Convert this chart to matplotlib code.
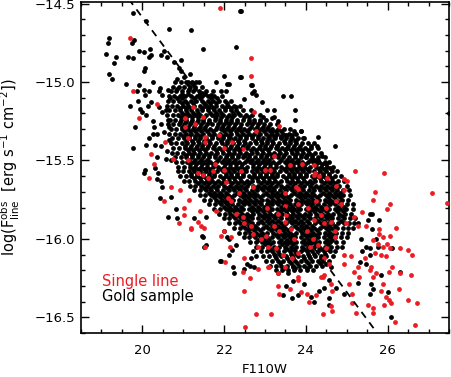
import matplotlib
matplotlib.use("Agg")
import matplotlib.pyplot as plt
from matplotlib.ticker import MultipleLocator, FuncFormatter

# ---------------- data ----------------
# "Gold sample" – isolated points outside the dense core
gold_sparse_x = [19.78, 20.09, 20.65, 19.19, 19.15, 19.80, 19.75, 19.11, 19.35, 19.31, 19.66, 19.78, 19.92, 20.04,
                 20.18, 20.21, 20.17, 20.45, 20.53, 20.61, 20.06, 20.04, 19.19, 19.25, 19.61, 19.92, 20.27, 19.88,
                 20.04, 20.07, 20.17, 20.43, 20.41, 20.48, 20.63, 20.68, 19.70, 19.90, 19.94, 20.00, 20.13, 20.21,
                 20.41, 20.49, 20.57, 20.09, 20.25, 19.82, 20.29, 20.45, 20.63, 20.65, 20.25, 20.37, 20.53, 20.17,
                 20.09, 19.78, 20.30, 20.45, 20.65, 20.35, 20.57, 20.61, 20.70, 20.06, 20.30,
                 20.03, 20.39, 20.35, 20.45, 20.49, 20.43, 20.63, 20.71,
                 20.84, 21.45, 21.52, 21.89, 20.82, 21.27, 21.56, 21.48, 21.56, 21.99, 22.06, 22.13, 22.19, 22.11,
                 22.30, 21.92, 22.21, 22.25, 22.49, 22.57, 22.64, 22.74, 22.65, 22.78, 22.70,
                 23.52, 23.68, 23.80, 23.96, 24.13, 24.21, 24.33, 24.44, 24.57, 24.74, 24.56, 24.57, 24.94, 24.61,
                 24.49, 23.56, 23.31, 23.68, 23.43, 23.67,
                 25.56, 25.62, 25.52, 25.78, 25.62, 25.72, 25.76, 26.11, 25.56, 25.48, 25.38, 25.56, 25.33, 25.46,
                 25.84, 26.31, 25.27, 25.60, 25.64, 25.58, 26.00, 26.07, 25.35, 25.28,
                 22.40, 22.28, 22.40, 22.12, 22.67, 22.73, 22.77, 22.48, 22.93, 23.43, 23.64, 23.73, 23.21, 22.95,
                 23.21, 23.73, 23.89, 23.66, 24.30, 24.72, 24.27, 24.13, 23.06, 23.17, 23.33, 23.16, 23.72, 23.88,
                 23.08, 23.23, 23.40, 23.52, 23.64, 23.76, 23.92, 23.30, 23.55, 23.80, 24.00, 24.17, 24.30, 24.50,
                 24.60, 24.40,
                 22.41, 21.18, 21.49, 20.95, 20.78, 20.90, 20.95, 21.03, 20.86, 21.17, 21.11, 21.23, 21.31, 21.80,
                 22.00, 22.08, 22.41, 22.65, 22.69, 21.68, 21.92, 22.04, 21.47, 22.08, 22.29, 27.49]
gold_sparse_y = [-14.56, -14.61, -14.66, -14.72, -14.75, -14.73, -14.75, -14.82, -14.84, -14.88, -14.84, -14.85, -14.80, -14.81,
                 -14.79, -14.83, -14.84, -14.83, -14.80, -14.84, -14.91, -14.93, -14.95, -14.98, -15.01, -15.02, -15.00, -15.06,
                 -15.05, -15.08, -15.06, -15.04, -15.06, -15.08, -15.05, -15.10, -15.15, -15.12, -15.17, -15.19, -15.15, -15.13,
                 -15.16, -15.19, -15.18, -15.21, -15.25, -15.29, -15.29, -15.27, -15.24, -15.29, -15.33, -15.33, -15.32, -15.36,
                 -15.40, -15.42, -15.40, -15.41, -15.37, -15.48, -15.49, -15.44, -15.50, -15.56, -15.55,
                 -15.58, -15.58, -15.62, -15.63, -15.67, -15.74, -15.86, -15.73,
                 -15.87, -15.98, -16.05, -16.14, -15.81, -15.87, -15.86, -15.99, -16.04, -15.95, -15.99, -16.00, -16.07, -16.10,
                 -16.04, -16.14, -16.18, -16.22, -16.19, -16.16, -16.17, -16.18, -16.12, -16.11, -16.08,
                 -16.30, -16.27, -16.36, -16.29, -16.37, -16.40, -16.33, -16.31, -16.26, -16.31, -16.42, -16.38, -16.35, -16.18,
                 -16.16, -16.22, -16.22, -16.18, -16.36, -16.38,
                 -15.84, -15.84, -15.88, -15.88, -15.94, -16.00, -16.05, -16.06, -16.06, -16.05, -16.08, -16.10, -16.15, -16.16,
                 -16.23, -16.21, -16.28, -16.29, -16.32, -16.35, -16.34, -16.50, -16.00, -15.90,
                 -14.55, -14.78, -14.97, -15.01, -15.02, -15.06, -15.08, -15.11, -15.13, -15.09, -15.09, -15.18, -15.18, -15.22,
                 -15.22, -15.24, -15.31, -15.34, -15.35, -15.41, -15.41, -15.41, -15.18, -15.23, -15.25, -15.31, -15.31, -15.31,
                 -15.36, -15.35, -15.35, -15.34, -15.36, -15.37, -15.36, -15.41, -15.42, -15.43, -15.48, -15.50, -15.50, -15.52,
                 -15.55, -15.47,
                 -14.55, -14.67, -14.79, -14.86, -14.87, -14.91, -14.93, -14.97, -14.98, -14.95, -15.00, -15.01, -15.00, -15.00,
                 -14.96, -15.01, -14.97, -15.02, -15.07, -15.08, -15.06, -15.06, -15.07, -15.15, -15.16, -15.20]

# "Gold sample" – dense core, one list of F110W values per flux row
core_row_y = [-15.00, -15.03, -15.06, -15.09, -15.12, -15.15, -15.18, -15.21, -15.24, -15.27, -15.30, -15.33, -15.36, -15.39,
              -15.42, -15.45, -15.48, -15.51, -15.54, -15.57, -15.60, -15.63, -15.66, -15.69, -15.72, -15.75, -15.78, -15.81,
              -15.84, -15.87, -15.90, -15.93, -15.96, -15.99, -16.02, -16.05, -16.08, -16.11, -16.14, -16.17, -16.20]
core_row_x = [
    [20.80, 20.94, 21.08, 21.22, 21.38],
    [20.76, 20.89, 21.02, 21.16, 21.30, 21.47],
    [20.69, 20.83, 20.97, 21.11, 21.25, 21.39, 21.55, 21.72],
    [20.65, 20.78, 20.91, 21.05, 21.19, 21.33, 21.47, 21.61, 21.76, 21.95],
    [20.63, 20.76, 20.90, 21.04, 21.18, 21.32, 21.46, 21.60, 21.74, 21.88, 22.02, 22.18],
    [20.60, 20.72, 20.85, 20.99, 21.12, 21.26, 21.40, 21.53, 21.67, 21.81, 21.95, 22.09, 22.24, 22.40],
    [20.66, 20.80, 20.93, 21.07, 21.20, 21.34, 21.47, 21.61, 21.75, 21.88, 22.02, 22.16, 22.30, 22.46, 22.66],
    [20.61, 20.74, 20.88, 21.01, 21.15, 21.29, 21.42, 21.56, 21.70, 21.83, 21.97, 22.11, 22.25, 22.39, 22.53, 22.68, 22.88],
    [20.67, 20.81, 20.95, 21.08, 21.22, 21.36, 21.49, 21.63, 21.77, 21.91, 22.04, 22.18, 22.32, 22.46, 22.60, 22.74, 22.88, 23.03],
    [20.62, 20.75, 20.89, 21.03, 21.16, 21.30, 21.44, 21.58, 21.71, 21.85, 21.99, 22.13, 22.27, 22.41, 22.55, 22.69, 22.83, 22.97,
     23.12, 23.30],
    [20.69, 20.83, 20.96, 21.10, 21.24, 21.37, 21.51, 21.65, 21.79, 21.92, 22.06, 22.20, 22.34, 22.48, 22.62, 22.76, 22.90, 23.04,
     23.18, 23.32, 23.47, 23.62],
    [20.66, 20.79, 20.93, 21.06, 21.20, 21.34, 21.48, 21.62, 21.76, 21.90, 22.04, 22.18, 22.32, 22.46, 22.60, 22.74, 22.88, 23.02,
     23.16, 23.30, 23.44, 23.58, 23.76],
    [20.73, 20.87, 21.01, 21.14, 21.28, 21.42, 21.56, 21.70, 21.84, 21.98, 22.12, 22.26, 22.40, 22.54, 22.68, 22.82, 22.96, 23.10,
     23.24, 23.38, 23.52, 23.66, 23.80, 23.96],
    [20.70, 20.83, 20.97, 21.10, 21.24, 21.38, 21.52, 21.66, 21.80, 21.94, 22.08, 22.22, 22.36, 22.50, 22.64, 22.78, 22.92, 23.06,
     23.20, 23.34, 23.48, 23.62, 23.76, 23.90, 24.05, 24.20],
    [20.76, 20.90, 21.04, 21.17, 21.31, 21.45, 21.59, 21.73, 21.87, 22.01, 22.15, 22.29, 22.43, 22.57, 22.71, 22.85, 22.99, 23.13,
     23.27, 23.41, 23.55, 23.69, 23.83, 23.97, 24.12, 24.30],
    [20.73, 20.86, 21.00, 21.13, 21.27, 21.41, 21.55, 21.69, 21.83, 21.97, 22.11, 22.25, 22.39, 22.53, 22.67, 22.81, 22.95, 23.09,
     23.23, 23.37, 23.51, 23.65, 23.79, 23.93, 24.07, 24.22, 24.38],
    [20.80, 20.94, 21.07, 21.21, 21.35, 21.49, 21.63, 21.77, 21.91, 22.05, 22.19, 22.33, 22.47, 22.61, 22.75, 22.89, 23.03, 23.17,
     23.31, 23.45, 23.59, 23.73, 23.87, 24.01, 24.15, 24.30, 24.46],
    [20.82, 20.96, 21.10, 21.24, 21.38, 21.52, 21.66, 21.80, 21.94, 22.08, 22.22, 22.36, 22.50, 22.64, 22.78, 22.92, 23.06, 23.20,
     23.34, 23.48, 23.62, 23.76, 23.90, 24.04, 24.18, 24.32, 24.46, 24.57],
    [20.88, 21.02, 21.16, 21.30, 21.44, 21.58, 21.72, 21.86, 22.00, 22.14, 22.28, 22.42, 22.56, 22.70, 22.84, 22.98, 23.12, 23.26,
     23.40, 23.54, 23.68, 23.82, 23.96, 24.10, 24.24, 24.38, 24.52, 24.66],
    [20.87, 21.00, 21.13, 21.27, 21.41, 21.55, 21.69, 21.83, 21.97, 22.11, 22.25, 22.39, 22.53, 22.67, 22.81, 22.95, 23.09, 23.23,
     23.37, 23.51, 23.65, 23.79, 23.93, 24.07, 24.21, 24.35, 24.49, 24.63, 24.77],
    [20.93, 21.07, 21.20, 21.34, 21.48, 21.62, 21.76, 21.90, 22.04, 22.18, 22.32, 22.46, 22.60, 22.74, 22.88, 23.02, 23.16, 23.30,
     23.44, 23.58, 23.72, 23.86, 24.00, 24.14, 24.28, 24.42, 24.56, 24.70, 24.86],
    [21.02, 21.15, 21.29, 21.43, 21.57, 21.71, 21.85, 21.99, 22.13, 22.27, 22.41, 22.55, 22.69, 22.83, 22.97, 23.11, 23.25, 23.39,
     23.53, 23.67, 23.81, 23.95, 24.09, 24.23, 24.37, 24.51, 24.65, 24.79, 24.94],
    [21.16, 21.30, 21.44, 21.58, 21.72, 21.86, 22.00, 22.14, 22.28, 22.42, 22.56, 22.70, 22.84, 22.98, 23.12, 23.26, 23.40, 23.54,
     23.68, 23.82, 23.96, 24.10, 24.24, 24.38, 24.52, 24.66, 24.80, 25.00],
    [21.27, 21.41, 21.55, 21.69, 21.83, 21.97, 22.11, 22.25, 22.39, 22.53, 22.67, 22.81, 22.95, 23.09, 23.23, 23.37, 23.51, 23.65,
     23.79, 23.93, 24.07, 24.21, 24.35, 24.49, 24.63, 24.77, 24.91, 25.06],
    [21.40, 21.54, 21.68, 21.82, 21.96, 22.10, 22.24, 22.38, 22.52, 22.66, 22.80, 22.94, 23.08, 23.22, 23.36, 23.50, 23.64, 23.78,
     23.92, 24.06, 24.20, 24.34, 24.48, 24.62, 24.76, 24.90, 25.08],
    [21.52, 21.66, 21.80, 21.94, 22.08, 22.22, 22.36, 22.50, 22.64, 22.78, 22.92, 23.06, 23.20, 23.34, 23.48, 23.62, 23.76, 23.90,
     24.04, 24.18, 24.32, 24.46, 24.60, 24.74, 24.88, 25.02],
    [21.64, 21.78, 21.92, 22.06, 22.20, 22.34, 22.48, 22.62, 22.76, 22.90, 23.04, 23.18, 23.32, 23.46, 23.60, 23.74, 23.88, 24.02,
     24.16, 24.30, 24.44, 24.58, 24.72, 24.86, 25.00, 25.14],
    [21.76, 21.90, 22.04, 22.18, 22.32, 22.46, 22.60, 22.74, 22.88, 23.02, 23.16, 23.30, 23.44, 23.58, 23.72, 23.86, 24.00, 24.14,
     24.28, 24.42, 24.56, 24.70, 24.84, 24.98, 25.16],
    [21.87, 22.01, 22.15, 22.29, 22.43, 22.57, 22.71, 22.85, 22.99, 23.13, 23.27, 23.41, 23.55, 23.69, 23.83, 23.97, 24.11, 24.25,
     24.39, 24.53, 24.67, 24.81, 24.95, 25.10],
    [21.99, 22.13, 22.27, 22.41, 22.55, 22.69, 22.83, 22.97, 23.11, 23.25, 23.39, 23.53, 23.67, 23.81, 23.95, 24.09, 24.23, 24.37,
     24.51, 24.65, 24.79, 24.93, 25.07, 25.19],
    [22.12, 22.26, 22.40, 22.54, 22.68, 22.82, 22.96, 23.10, 23.24, 23.38, 23.52, 23.66, 23.80, 23.94, 24.08, 24.22, 24.36, 24.50,
     24.64, 24.78, 24.92, 25.06, 25.18],
    [22.24, 22.38, 22.52, 22.66, 22.80, 22.94, 23.08, 23.22, 23.36, 23.50, 23.64, 23.78, 23.92, 24.06, 24.20, 24.34, 24.48, 24.62,
     24.76, 24.90, 25.04, 25.15],
    [22.36, 22.50, 22.64, 22.78, 22.92, 23.06, 23.20, 23.34, 23.48, 23.62, 23.76, 23.90, 24.04, 24.18, 24.32, 24.46, 24.60, 24.74,
     24.88, 25.02],
    [22.48, 22.62, 22.76, 22.90, 23.04, 23.18, 23.32, 23.46, 23.60, 23.74, 23.88, 24.02, 24.16, 24.30, 24.44, 24.58, 24.72, 24.86,
     25.00],
    [22.64, 22.78, 22.92, 23.06, 23.20, 23.34, 23.48, 23.62, 23.76, 23.90, 24.04, 24.18, 24.32, 24.46, 24.60, 24.74, 24.90],
    [22.79, 22.93, 23.07, 23.21, 23.35, 23.49, 23.63, 23.77, 23.91, 24.05, 24.19, 24.33, 24.47, 24.61, 24.75, 24.88],
    [22.90, 23.04, 23.18, 23.32, 23.46, 23.60, 23.74, 23.88, 24.02, 24.16, 24.30, 24.44, 24.58, 24.72],
    [22.96, 23.10, 23.24, 23.38, 23.52, 23.66, 23.80, 23.94, 24.08, 24.22, 24.36, 24.50, 24.66],
    [23.03, 23.17, 23.31, 23.45, 23.59, 23.73, 23.87, 24.01, 24.15, 24.29, 24.43, 24.56],
    [23.12, 23.26, 23.40, 23.54, 23.68, 23.82, 23.96, 24.10, 24.24, 24.40],
    [23.28, 23.42, 23.56, 23.70, 23.86, 24.02, 24.18],
]

# dense core, rows lying between the rows above (thinner toward the edges, with gaps)
core_mid_y = [-15.015, -15.045, -15.075, -15.105, -15.135, -15.165, -15.195, -15.225, -15.255, -15.285, -15.315, -15.345,
              -15.375, -15.405, -15.435, -15.465, -15.495, -15.525, -15.555, -15.585, -15.615, -15.645, -15.675, -15.705,
              -15.735, -15.765, -15.795, -15.825, -15.855, -15.885, -15.915, -15.945, -15.975, -16.005, -16.035, -16.065,
              -16.095, -16.125, -16.155, -16.185]
core_mid_x = [
    [21.12],
    [20.86, 21.14, 21.30],
    [20.98, 21.12, 21.40, 21.54],
    [20.84, 20.98, 21.26, 21.40, 21.68, 21.82],
    [20.96, 21.10, 21.24, 21.52, 21.66, 21.80, 22.08],
    [20.92, 21.06, 21.19, 21.47, 21.60, 21.74, 22.02, 22.16],
    [20.96, 21.10, 21.23, 21.37, 21.65, 21.79, 21.93, 22.21, 22.35],
    [20.94, 21.08, 21.22, 21.36, 21.50, 21.78, 21.92, 22.06, 22.20, 22.48, 22.62],
    [20.92, 21.06, 21.20, 21.34, 21.48, 21.62, 21.90, 22.04, 22.18, 22.32, 22.60, 22.74, 22.88],
    [20.98, 21.12, 21.26, 21.40, 21.54, 21.82, 21.96, 22.10, 22.24, 22.38, 22.66, 22.80, 22.94, 23.08],
    [21.02, 21.16, 21.30, 21.44, 21.58, 21.72, 22.00, 22.14, 22.28, 22.42, 22.56, 22.84, 22.98, 23.12, 23.26, 23.40],
    [21.00, 21.14, 21.28, 21.42, 21.70, 21.84, 21.98, 22.12, 22.40, 22.54, 22.68, 22.82, 23.10, 23.24, 23.38, 23.52],
    [21.08, 21.22, 21.36, 21.50, 21.64, 21.92, 22.06, 22.20, 22.34, 22.48, 22.76, 22.90, 23.04, 23.18, 23.46, 23.60, 23.74],
    [21.05, 21.19, 21.33, 21.47, 21.61, 21.75, 22.03, 22.17, 22.31, 22.45, 22.59, 22.87, 23.01, 23.15, 23.29, 23.57, 23.71,
     23.85],
    [21.11, 21.25, 21.39, 21.53, 21.81, 21.95, 22.09, 22.23, 22.37, 22.65, 22.79, 22.93, 23.07, 23.35, 23.49, 23.63, 23.77,
     23.91, 24.05],
    [21.08, 21.22, 21.36, 21.50, 21.64, 21.78, 22.06, 22.20, 22.34, 22.48, 22.62, 22.90, 23.04, 23.18, 23.32, 23.46, 23.74,
     23.88, 24.02, 24.16],
    [21.15, 21.29, 21.43, 21.57, 21.85, 21.99, 22.13, 22.27, 22.55, 22.69, 22.83, 22.97, 23.11, 23.39, 23.53, 23.67, 23.81,
     24.09, 24.23],
    [21.17, 21.31, 21.45, 21.59, 21.73, 22.01, 22.15, 22.29, 22.43, 22.71, 22.85, 22.99, 23.13, 23.27, 23.55, 23.69, 23.83,
     23.97, 24.25, 24.39],
    [21.23, 21.37, 21.51, 21.65, 21.93, 22.07, 22.21, 22.35, 22.49, 22.77, 22.91, 23.05, 23.19, 23.47, 23.61, 23.75, 23.89,
     24.03, 24.31, 24.45],
    [21.20, 21.34, 21.48, 21.62, 21.76, 22.04, 22.18, 22.32, 22.46, 22.74, 22.88, 23.02, 23.16, 23.30, 23.58, 23.72, 23.86,
     24.00, 24.28, 24.42, 24.56],
    [21.27, 21.41, 21.55, 21.69, 21.97, 22.11, 22.25, 22.39, 22.67, 22.81, 22.95, 23.09, 23.23, 23.51, 23.65, 23.79, 23.93,
     24.21, 24.35, 24.49, 24.63],
    [21.36, 21.50, 21.64, 21.78, 21.92, 22.20, 22.34, 22.48, 22.62, 22.90, 23.04, 23.18, 23.32, 23.60, 23.74, 23.88, 24.02,
     24.16, 24.44, 24.58, 24.72],
    [21.51, 21.65, 21.79, 22.07, 22.21, 22.35, 22.49, 22.77, 22.91, 23.05, 23.19, 23.47, 23.61, 23.75, 23.89, 24.17, 24.31,
     24.45, 24.59, 24.73],
    [21.62, 21.76, 21.90, 22.04, 22.32, 22.46, 22.60, 22.74, 23.02, 23.16, 23.30, 23.44, 23.72, 23.86, 24.00, 24.14, 24.42,
     24.56, 24.70, 24.84],
    [21.75, 21.89, 22.03, 22.17, 22.45, 22.59, 22.73, 22.87, 23.15, 23.29, 23.43, 23.57, 23.85, 23.99, 24.13, 24.27, 24.55,
     24.69, 24.83],
    [21.87, 22.01, 22.15, 22.43, 22.57, 22.71, 22.85, 23.13, 23.27, 23.41, 23.55, 23.83, 23.97, 24.11, 24.25, 24.53, 24.67,
     24.81],
    [21.99, 22.13, 22.27, 22.41, 22.69, 22.83, 22.97, 23.11, 23.39, 23.53, 23.67, 23.81, 24.09, 24.23, 24.37, 24.51, 24.79,
     24.93],
    [22.11, 22.25, 22.39, 22.67, 22.81, 22.95, 23.09, 23.37, 23.51, 23.65, 23.79, 24.07, 24.21, 24.35, 24.49, 24.77, 24.91],
    [22.22, 22.36, 22.50, 22.64, 22.92, 23.06, 23.20, 23.34, 23.62, 23.76, 23.90, 24.04, 24.32, 24.46, 24.60, 24.88],
    [22.34, 22.48, 22.62, 22.90, 23.04, 23.18, 23.32, 23.60, 23.74, 23.88, 24.02, 24.30, 24.44, 24.58, 24.86],
    [22.47, 22.61, 22.75, 23.03, 23.17, 23.31, 23.45, 23.73, 23.87, 24.01, 24.15, 24.43, 24.57, 24.71],
    [22.59, 22.73, 22.87, 23.15, 23.29, 23.43, 23.57, 23.85, 23.99, 24.13, 24.27, 24.55, 24.69],
    [22.71, 22.85, 22.99, 23.27, 23.41, 23.55, 23.69, 23.97, 24.11, 24.25, 24.53, 24.67],
    [22.83, 22.97, 23.11, 23.39, 23.53, 23.67, 23.95, 24.09, 24.23, 24.51, 24.65],
    [22.99, 23.13, 23.41, 23.55, 23.69, 23.97, 24.11, 24.25, 24.53],
    [23.12, 23.26, 23.54, 23.68, 23.96, 24.10, 24.38, 24.52],
    [23.21, 23.35, 23.63, 23.77, 24.05, 24.19, 24.47],
    [23.26, 23.54, 23.68, 23.96, 24.10, 24.38],
    [23.36, 23.64, 23.78, 24.06, 24.34],
    [23.46, 23.74, 24.02],
]

# "Single line" sample (red)
single_x = [19.70, 19.76, 20.35, 19.92, 20.56, 20.21, 20.29, 20.17, 20.70, 20.53,
            21.91, 22.65, 22.65, 22.72, 23.34, 22.78, 22.19, 23.22, 23.91, 24.19, 25.21, 25.90, 24.94, 25.00, 24.52,
            24.23, 23.01, 23.12, 23.60,
            21.25, 21.49, 21.05, 21.04, 21.29, 21.11, 21.53, 21.53, 21.87, 22.00, 22.45, 21.11, 21.78, 20.74,
            20.91, 21.03, 21.03, 20.90, 21.15, 21.19, 21.35, 21.44, 21.52, 21.20, 21.54, 21.92, 21.99, 22.17, 22.15,
            22.49, 22.02, 22.47, 22.84, 22.63, 22.49, 22.79, 22.52, 21.41,
            21.60, 21.72, 22.04, 22.09, 22.17, 22.37, 22.45, 22.49, 22.65, 22.70, 22.90, 22.82, 21.80, 21.48, 22.00,
            22.41, 22.70, 22.29, 21.35,
            24.19, 24.33, 23.76, 23.80, 24.74, 23.48, 24.94, 23.05, 23.33, 23.52, 23.80, 24.05, 24.25, 24.37, 24.49,
            24.74, 24.86, 23.23, 23.35, 23.49, 23.64, 23.72, 24.03, 24.21, 24.45, 24.61, 24.70, 24.98, 25.18, 23.07,
            23.27, 23.44, 23.65, 23.80, 24.09, 24.29, 24.49, 24.57, 23.11, 23.31, 23.48, 23.80, 24.41, 24.70, 24.94,
            25.10, 23.48, 23.03, 24.45, 24.17,
            23.15, 24.41, 23.33, 23.35, 23.60, 23.80, 23.88, 24.03, 24.07, 24.25, 24.61, 24.65, 24.61, 24.65, 25.06,
            25.12, 25.12, 24.45, 24.37, 23.07, 24.94, 25.18,
            25.70, 27.09, 25.64, 26.05, 25.98, 25.38, 25.27, 25.48, 25.78, 25.80, 26.21, 26.05, 25.88, 25.64, 25.76,
            25.88, 25.98, 26.05, 26.31, 26.49, 26.60, 25.44, 25.68, 25.84, 25.96, 25.27, 25.60, 25.56, 25.64, 25.72,
            26.11, 26.03, 26.29, 26.56, 25.31, 25.88, 25.84, 25.96, 26.03, 26.07, 25.91, 26.27, 26.49, 26.71, 25.53,
            25.65, 25.65, 25.23, 26.18, 26.66, 27.46]
single_y = [-14.72, -15.06, -15.14, -15.23, -15.38, -15.46, -15.52, -15.61, -15.67, -15.76,
            -14.53, -14.85, -14.96, -15.19, -15.28, -15.31, -15.38, -15.47, -15.52, -15.53, -15.57, -15.58, -15.62, -15.63, -15.61,
            -15.58, -15.56, -15.56, -15.53,
            -15.16, -15.22, -15.23, -15.29, -15.27, -15.36, -15.35, -15.38, -15.34, -15.42, -15.43, -15.50, -15.52, -15.49,
            -15.69, -15.80, -15.85, -15.90, -15.75, -15.93, -15.89, -15.92, -15.93, -15.94, -16.05, -15.98, -15.95, -15.99, -16.05,
            -16.12, -16.15, -16.21, -16.19, -16.25, -16.33, -16.48, -16.56, -15.82,
            -15.61, -15.57, -15.64, -15.74, -15.76, -15.71, -15.86, -15.90, -15.92, -15.97, -16.00, -16.05, -15.82, -15.59, -15.56,
            -15.57, -15.67, -15.84, -15.58,
            -15.59, -15.60, -15.67, -15.68, -15.66, -15.71, -15.69, -15.80, -15.84, -15.85, -15.78, -15.80, -15.76, -15.85, -15.80,
            -15.76, -15.78, -15.92, -15.95, -15.89, -15.94, -16.00, -15.95, -15.88, -15.90, -15.89, -15.95, -15.90, -15.86, -16.05,
            -16.06, -16.10, -16.12, -16.09, -16.05, -16.04, -16.06, -16.16, -16.18, -16.22, -16.18, -16.24, -16.24, -15.99, -16.10,
            -16.11, -15.79, -15.98, -16.12, -16.00,
            -16.48, -16.48, -16.30, -16.35, -16.32, -16.26, -16.34, -16.35, -16.40, -16.36, -16.29, -16.33, -16.43, -16.46, -16.29,
            -16.35, -16.41, -16.23, -16.24, -16.18, -16.16, -16.21,
            -15.70, -15.71, -15.75, -15.78, -15.81, -15.83, -15.92, -15.92, -15.94, -15.97, -15.93, -15.98, -15.99, -16.01, -16.03,
            -16.05, -16.03, -16.06, -16.06, -16.07, -16.10, -16.12, -16.09, -16.10, -16.11, -16.18, -16.18, -16.20, -16.24, -16.22,
            -16.18, -16.21, -16.22, -16.23, -16.24, -16.29, -16.33, -16.37, -16.39, -16.41, -16.42, -16.32, -16.39, -16.41, -16.42,
            -16.44, -16.47, -16.47, -16.53, -16.55, -15.77]

# dashed reference line (two end points, F110W vs log flux)
line_x = [19.55, 25.90]
line_y = [-14.43, -16.655]

x_ticks = [20, 22, 24, 26]
y_ticks = [-16.5, -16.0, -15.5, -15.0, -14.5]
legend_labels = ["Single line", "Gold sample"]

RED = "#ec1c24"

# ---------------- figure ----------------
gold_x = list(gold_sparse_x)
gold_y = list(gold_sparse_y)
for rows_y, rows_x in ((core_row_y, core_row_x), (core_mid_y, core_mid_x)):
    for yy, xs in zip(rows_y, rows_x):
        gold_x.extend(xs)
        gold_y.extend([yy] * len(xs))

fig = plt.figure(figsize=(4.52, 3.77), dpi=100)
ax = fig.add_axes([81 / 452, 44 / 377, 368 / 452, 331 / 377])

ax.scatter(gold_x, gold_y, s=12, c="black", linewidths=0, zorder=2)
ax.scatter(single_x, single_y, s=12, c=RED, linewidths=0, zorder=3)
ax.plot(line_x, line_y, color="black", lw=1.3, ls=(0, (4, 3.2)), zorder=4)

ax.set_xlim(18.5, 27.5)
ax.set_ylim(-16.6, -14.49)
ax.set_xticks(x_ticks)
ax.set_yticks(y_ticks)
ax.xaxis.set_minor_locator(MultipleLocator(0.5))
ax.yaxis.set_minor_locator(MultipleLocator(0.1))
ax.tick_params(which="both", direction="in", top=True, right=True, width=1.0, labelsize=9.5)
ax.tick_params(which="major", length=5.5)
ax.tick_params(which="minor", length=2.8)
ax.tick_params(axis="x", pad=8)
ax.tick_params(axis="y", pad=4)
ax.yaxis.set_major_formatter(FuncFormatter(lambda v, p: f"{v:.1f}".replace("-", "\u2212")))
for s in ax.spines.values():
    s.set_linewidth(1.2)

ax.set_xlabel("F110W", fontsize=9.5)
ax.xaxis.set_label_coords(0.5, -0.092)
ax.set_ylabel(r"log(F$^{\rm obs}_{\rm line}$  [erg s$^{-1}$ cm$^{-2}$])", fontsize=10.5)
ax.yaxis.set_label_coords(-0.16, 0.5)

ax.text(0.057, 0.157, legend_labels[0], color=RED, fontsize=10.5, transform=ax.transAxes, va="center", ha="left")
ax.text(0.057, 0.109, legend_labels[1], color="black", fontsize=10.5, transform=ax.transAxes, va="center", ha="left")

fig.savefig("out.png", dpi=100)
